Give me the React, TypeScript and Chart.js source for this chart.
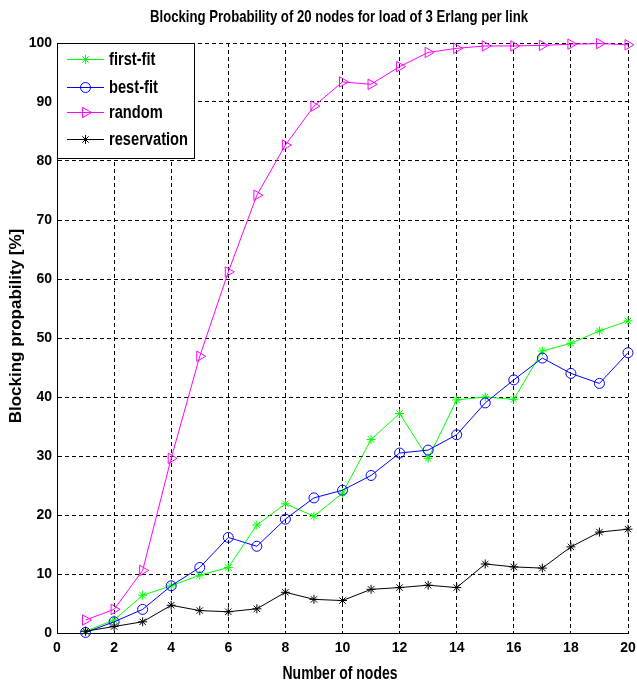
import React, { useEffect, useRef } from 'react';
import { Chart, registerables } from 'chart.js';

Chart.register(...registerables);

const nodes = [1, 2, 3, 4, 5, 6, 7, 8, 9, 10, 11, 12, 13, 14, 15, 16, 17, 18, 19, 20];
const firstFit = [0.3, 2.2, 6.4, 8.0, 9.8, 11.1, 18.3, 21.9, 19.8, 23.7, 32.8, 37.2, 29.6, 39.5, 40.0, 39.6, 47.8, 49.1, 51.2, 52.9];
const bestFit = [0.1, 1.9, 4.0, 8.0, 11.1, 16.2, 14.7, 19.3, 22.9, 24.2, 26.7, 30.5, 31.0, 33.6, 39.0, 42.9, 46.6, 44.0, 42.3, 47.5];
const randomFit = [2.2, 4.0, 10.6, 29.6, 46.9, 61.2, 74.2, 82.7, 89.3, 93.4, 93.0, 96.0, 98.4, 99.1, 99.5, 99.5, 99.6, 99.8, 99.9, 99.7];
const reservation = [0.3, 1.1, 1.9, 4.7, 3.8, 3.6, 4.1, 6.9, 5.7, 5.5, 7.4, 7.7, 8.1, 7.7, 11.7, 11.2, 11.0, 14.6, 17.1, 17.6];

const xTicks = [0, 2, 4, 6, 8, 10, 12, 14, 16, 18, 20];
const yTicks = [0, 10, 20, 30, 40, 50, 60, 70, 80, 90, 100];

const seriesNames = ['first-fit', 'best-fit', 'random', 'reservation'];
const seriesColors = ['#00ff00', '#0000ff', '#ff00ff', '#000000'];
const seriesMarkers = ['star', 'circle', 'triangle', 'star'];
const markerSizes = [4.5, 5, 6, 4.5];

const TITLE = 'Blocking Probability of 20 nodes for load of 3 Erlang per link';
const X_TITLE = 'Number of nodes';
const Y_TITLE = 'Blocking propability [%]';

const FONT = "'Liberation Sans', Arial, sans-serif";

function drawMarker(ctx: CanvasRenderingContext2D, style: string, x: number, y: number, r: number, color: string) {
  ctx.save();
  ctx.strokeStyle = color;
  ctx.lineWidth = 1;
  ctx.beginPath();
  if (style === 'circle') {
    ctx.arc(x, y, r, 0, Math.PI * 2);
  } else if (style === 'triangle') {
    ctx.moveTo(x + r, y);
    ctx.lineTo(x - r * 0.5, y - r * 0.87);
    ctx.lineTo(x - r * 0.5, y + r * 0.87);
    ctx.closePath();
  } else {
    for (let i = 0; i < 4; i++) {
      const a = (i * Math.PI) / 4;
      ctx.moveTo(x - Math.cos(a) * r, y - Math.sin(a) * r);
      ctx.lineTo(x + Math.cos(a) * r, y + Math.sin(a) * r);
    }
  }
  ctx.stroke();
  ctx.restore();
}

function narrowText(ctx: CanvasRenderingContext2D, text: string, x: number, y: number, sx: number, align: 'left' | 'center') {
  ctx.save();
  ctx.translate(x, y);
  ctx.scale(sx, 1);
  ctx.textAlign = align;
  ctx.fillText(text, 0, 0);
  ctx.restore();
}

const decorPlugin = {
  id: 'decor',
  afterDraw(chart: any) {
    const ctx: CanvasRenderingContext2D = chart.ctx;
    const area = chart.chartArea;
    ctx.save();
    ctx.fillStyle = '#000';
    ctx.textBaseline = 'middle';
    ctx.font = `bold 17px ${FONT}`;
    const tw = ctx.measureText(TITLE).width;
    narrowText(ctx, TITLE, 339, 17, 378 / tw, 'center');
    ctx.font = `bold 18px ${FONT}`;
    const xw = ctx.measureText(X_TITLE).width;
    narrowText(ctx, X_TITLE, 340, 674, 115 / xw, 'center');
    ctx.save();
    ctx.font = `bold 17px ${FONT}`;
    ctx.translate(16, 326);
    ctx.rotate(-Math.PI / 2);
    ctx.textAlign = 'center';
    ctx.fillText(Y_TITLE, 0, 0);
    ctx.restore();

    const bx = area.left;
    const by = area.top;
    const bw = 137;
    const bh = 115;
    ctx.fillStyle = '#fff';
    ctx.fillRect(bx, by, bw, bh);
    ctx.strokeStyle = '#000';
    ctx.lineWidth = 1;
    ctx.strokeRect(bx + 0.5, by + 0.5, bw, bh);
    const rows = [59, 87, 112, 139];
    ctx.font = `bold 18px ${FONT}`;
    const lw = ctx.measureText('reservation').width;
    const ls = 79 / lw;
    for (let i = 0; i < seriesNames.length; i++) {
      const y = rows[i];
      ctx.strokeStyle = seriesColors[i];
      ctx.beginPath();
      ctx.moveTo(67, y + 0.5);
      ctx.lineTo(104, y + 0.5);
      ctx.stroke();
      drawMarker(ctx, seriesMarkers[i], 85.5, y + 0.5, markerSizes[i], seriesColors[i]);
      ctx.fillStyle = '#000';
      narrowText(ctx, seriesNames[i], 109, y + 1, ls, 'left');
    }
    ctx.restore();
  },
};

export default function App() {
  const ref = useRef<HTMLCanvasElement | null>(null);
  useEffect(() => {
    document.body.style.margin = '0';
    const canvas = ref.current!;
    const mk = (label: string, data: number[], i: number) => ({
      label,
      data: nodes.map((x, j) => ({ x, y: data[j] })),
      borderColor: seriesColors[i],
      backgroundColor: 'transparent',
      borderWidth: 1,
      pointStyle: seriesMarkers[i],
      pointRadius: markerSizes[i],
      pointRotation: seriesMarkers[i] === 'triangle' ? 90 : 0,
      pointBorderColor: seriesColors[i],
      pointBackgroundColor: 'transparent',
      pointBorderWidth: 1,
      tension: 0,
      clip: false,
      order: 4 - i,
    });
    const tickFont = { family: FONT, size: 14, weight: 'bold' as const };
    const chart = new Chart(canvas, {
      type: 'line',
      data: {
        datasets: [
          mk(seriesNames[0], firstFit, 0),
          mk(seriesNames[1], bestFit, 1),
          mk(seriesNames[2], randomFit, 2),
          mk(seriesNames[3], reservation, 3),
        ],
      },
      options: {
        responsive: false,
        animation: false,
        devicePixelRatio: 1,
        layout: { padding: { left: 0, right: 9, top: 43, bottom: 0 } },
        plugins: { legend: { display: false }, tooltip: { enabled: false }, title: { display: false } },
        scales: {
          x: {
            type: 'linear',
            min: 0,
            max: 20,
            afterBuildTicks: (s: any) => { s.ticks = xTicks.map((v) => ({ value: v })); },
            afterFit: (s: any) => { s.height = 51; s.paddingLeft = 0; s.paddingRight = 0; },
            ticks: { font: tickFont, color: '#000', padding: 7, maxRotation: 0, autoSkip: false },
            grid: { color: '#000', lineWidth: 1, drawTicks: false },
            border: { color: '#000', width: 1, dash: [4, 3] },
          },
          y: {
            type: 'linear',
            min: 0,
            max: 100,
            afterBuildTicks: (s: any) => { s.ticks = yTicks.map((v) => ({ value: v })); },
            afterFit: (s: any) => { s.width = 57; s.paddingTop = 0; s.paddingBottom = 0; },
            ticks: { font: tickFont, color: '#000', padding: 5, autoSkip: false },
            grid: { color: '#000', lineWidth: 1, drawTicks: false },
            border: { color: '#000', width: 1, dash: [4, 3] },
          },
        },
      },
      plugins: [decorPlugin],
    });
    return () => chart.destroy();
  }, []);
  return <canvas ref={ref} width={637} height={684} style={{ display: 'block', width: 637, height: 684 }} />;
}
